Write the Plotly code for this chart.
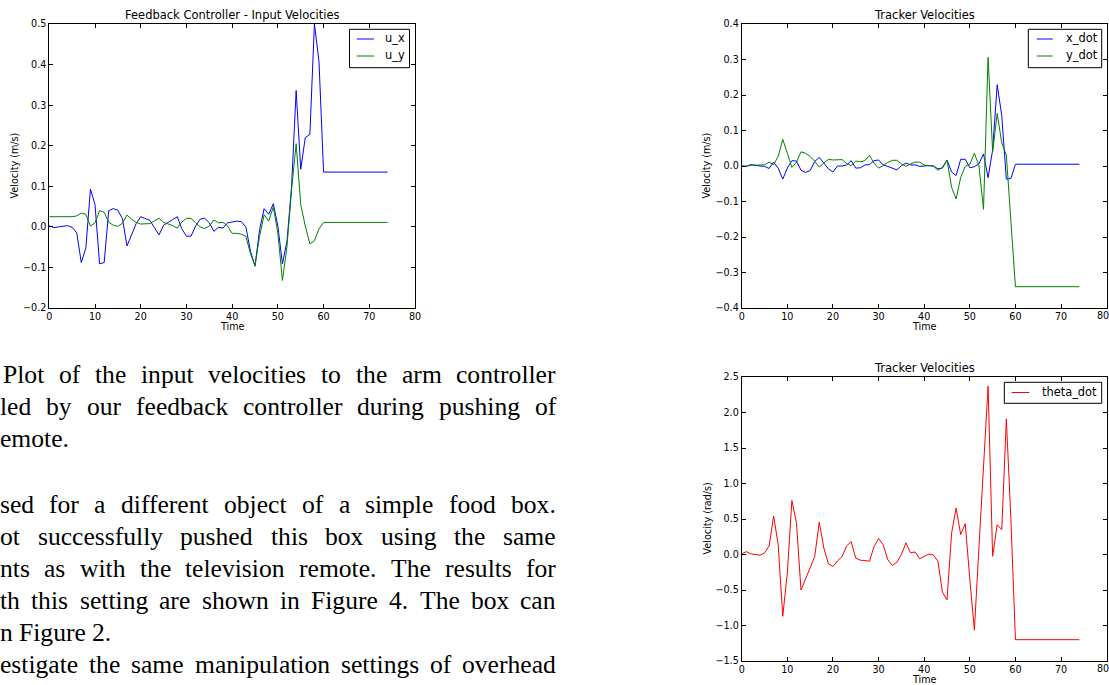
import plotly.graph_objects as go

# ---------------------------------------------------------------- data
time = list(range(75))

u_x = [0.003, -0.002, 0.0, 0.001, 0.003, -0.001, -0.015, -0.088, -0.052, 0.093,
       0.055, -0.091, -0.088, 0.040, 0.045, 0.041, 0.020, -0.047, -0.021, 0.008,
       0.025, 0.021, 0.016, -0.002, -0.020, 0.004, 0.012, 0.018, 0.025, -0.005,
       -0.023, -0.023, 0.002, 0.019, 0.021, 0.010, -0.011, -0.001, -0.003, 0.010,
       0.012, 0.014, 0.013, 0.000, -0.060, -0.097, -0.007, 0.045, 0.031, 0.057,
       0.002, -0.091, -0.035, 0.100, 0.336, 0.142, 0.220, 0.228, 0.500, 0.407,
       0.135, 0.135, 0.135, 0.135, 0.135, 0.135, 0.135, 0.135, 0.135, 0.135,
       0.135, 0.135, 0.135, 0.135, 0.135]

u_y = [0.025, 0.025, 0.025, 0.025, 0.025, 0.025, 0.027, 0.034, 0.031, 0.002,
       0.010, 0.040, 0.036, 0.011, 0.004, 0.001, 0.009, 0.029, 0.019, 0.011,
       0.007, 0.007, 0.008, 0.015, 0.021, 0.011, 0.007, 0.003, -0.003, 0.012,
       0.021, 0.021, 0.010, 0.000, -0.004, 0.002, 0.017, 0.010, 0.011, 0.002,
       -0.016, -0.016, -0.018, -0.023, -0.066, -0.096, -0.023, 0.030, 0.014, 0.049,
       -0.015, -0.132, -0.048, 0.092, 0.205, 0.055, 0.002, -0.042, -0.034, -0.005,
       0.011, 0.011, 0.011, 0.011, 0.011, 0.011, 0.011, 0.011, 0.011, 0.011,
       0.011, 0.011, 0.011, 0.011, 0.011]

x_dot = [0.0, -0.001, 0.004, 0.001, 0.0, -0.001, -0.007, 0.011, -0.006, -0.037,
         -0.006, 0.015, 0.014, -0.012, -0.018, -0.013, 0.013, 0.024, 0.008, -0.008,
         -0.017, 0.0, 0.0, 0.003, 0.015, -0.006, -0.005, 0.003, 0.004, 0.015,
         0.017, 0.003, -0.001, -0.006, -0.011, 0.001, 0.008, 0.003, 0.003, -0.001,
         0.001, 0.001, 0.0, -0.008, -0.006, 0.017, -0.017, -0.027, 0.019, 0.019,
         -0.005, -0.002, 0.006, 0.034, -0.033, 0.045, 0.229, 0.142, -0.037, -0.035,
         0.005, 0.005, 0.005, 0.005, 0.005, 0.005, 0.005, 0.005, 0.005, 0.005,
         0.005, 0.005, 0.005, 0.005, 0.005]

y_dot = [-0.001, -0.001, 0.002, 0.002, 0.003, 0.003, 0.011, 0.004, 0.027, 0.075,
         0.036, -0.004, 0.011, 0.040, 0.036, 0.027, 0.013, -0.003, 0.008, 0.019,
         0.017, 0.018, 0.018, 0.007, 0.001, 0.014, 0.012, 0.015, 0.030, 0.008,
         -0.006, 0.001, 0.010, 0.016, 0.016, 0.006, -0.001, 0.006, 0.011, 0.011,
         0.003, 0.001, 0.0, -0.012, -0.004, 0.017, -0.060, -0.093, -0.032, -0.001,
         0.005, 0.036, 0.001, -0.122, 0.306, 0.040, 0.148, 0.065, 0.031, -0.155,
         -0.340, -0.340, -0.340, -0.340, -0.340, -0.340, -0.340, -0.340, -0.340, -0.340,
         -0.340, -0.340, -0.340, -0.340, -0.340]

theta_dot = [0.01, 0.04, 0.01, 0.005, -0.01, 0.02, 0.12, 0.54, 0.14, -0.87,
             -0.26, 0.76, 0.45, -0.50, -0.35, -0.19, -0.03, 0.455, 0.09, -0.13,
             -0.17, -0.09, -0.03, 0.12, 0.18, -0.05, -0.08, -0.085, -0.095, 0.11,
             0.225, 0.14, -0.07, -0.155, -0.11, 0.0, 0.165, 0.025, 0.035, -0.06,
             -0.025, 0.005, -0.005, -0.095, -0.53, -0.64, 0.30, 0.655, 0.28, 0.435,
             -0.35, -1.065, 0.10, 1.20, 2.37, -0.025, 0.42, 0.35, 1.91, 0.50,
             -1.20, -1.20, -1.20, -1.20, -1.20, -1.20, -1.20, -1.20, -1.20, -1.20,
             -1.20, -1.20, -1.20, -1.20, -1.20]

x_ticks = [0, 10, 20, 30, 40, 50, 60, 70, 80]
x_tick_text = ["0", "10", "20", "30", "40", "50", "60", "70", "80"]

panel_titles = ["Feedback Controller - Input Velocities", "Tracker Velocities", "Tracker Velocities"]
x_titles = ["Time", "Time", "Time"]
y_titles = ["Velocity (m/s)", "Velocity (m/s)", "Velocity (rad/s)"]

caption_lines = [
    "Plot of the input velocities to the arm controller",
    "led by our feedback controller during pushing of",
    "emote.",
    "sed for a different object of a simple food box.",
    "ot successfully pushed this box using the same",
    "nts as with the television remote. The results for",
    "th this setting are shown in Figure 4. The box can",
    "n Figure 2.",
    "estigate the same manipulation settings of overhead",
]

# ---------------------------------------------------------------- geometry (pixels)
W, H = 1109, 685


def px(x):
    return x / W


def py(y):
    return 1 - y / H


panels = [
    dict(x0=49.3, x1=415.0, y0=24.0, y1=308.0, yr=(-0.2, 0.5), dy=0.1),
    dict(x0=741.7, x1=1106.7, y0=24.0, y1=308.0, yr=(-0.4, 0.4), dy=0.1),
    dict(x0=741.7, x1=1106.7, y0=377.0, y1=661.0, yr=(-1.5, 2.5), dy=0.5),
]

SANS = "DejaVu Sans"
SERIF = "Liberation Serif"
BLUE, GREEN, RED = "#0000ff", "#008000", "#ff0000"
TICK_SIZE = 9.6

fig = go.Figure()

series = [
    (1, "u_x", u_x, BLUE), (1, "u_y", u_y, GREEN),
    (2, "x_dot", x_dot, BLUE), (2, "y_dot", y_dot, GREEN),
    (3, "theta_dot", theta_dot, RED),
]
for k, name, vals, col in series:
    sfx = "" if k == 1 else str(k)
    fig.add_trace(go.Scatter(x=time, y=vals, name=name, mode="lines",
                             line=dict(color=col, width=1),
                             xaxis="x" + sfx, yaxis="y" + sfx, showlegend=False))

axis_common = dict(showline=True, linecolor="black", linewidth=1, mirror="allticks",
                   ticks="inside", ticklen=4, tickwidth=1, tickcolor="black",
                   showgrid=False, zeroline=False, fixedrange=True,
                   tickfont=dict(family=SANS, size=TICK_SIZE, color="black"))

layout = dict(width=W, height=H, margin=dict(l=0, r=0, t=0, b=0, autoexpand=False),
              paper_bgcolor="white", plot_bgcolor="white", showlegend=False)

annotations = []
shapes = []


def label(text, x, y, size, family=SANS, angle=0, xanchor="center"):
    annotations.append(dict(text=text, x=px(x), y=py(y), xref="paper", yref="paper",
                            xanchor=xanchor, yanchor="middle", showarrow=False,
                            textangle=angle, borderpad=0, borderwidth=0,
                            font=dict(family=family, size=size, color="black")))


for i, p in enumerate(panels, start=1):
    sfx = "" if i == 1 else str(i)
    # the right-hand panels end at the page edge, so their last x label is
    # set flush against the edge instead of centred on the tick
    at_edge = p["x1"] > W - 10
    ticktext = list(x_tick_text)
    if at_edge:
        ticktext[-1] = ""
        label(x_tick_text[-1], W - 0.5, p["y1"] + 7, TICK_SIZE, xanchor="right")
    layout["xaxis" + sfx] = dict(axis_common, domain=[px(p["x0"]), px(p["x1"])],
                                 range=[0, 80], tickvals=x_ticks, ticktext=ticktext,
                                 ticklabelstandoff=-1, anchor="y" + sfx)
    layout["yaxis" + sfx] = dict(axis_common, domain=[py(p["y1"]), py(p["y0"])],
                                 range=list(p["yr"]), dtick=p["dy"], tick0=0,
                                 tickformat=".1f", anchor="x" + sfx)

fig.update_layout(**layout)

# panel titles and axis titles
for p, t, xt, yt, ylx in zip(panels, panel_titles, x_titles, y_titles, [14.5, 706.5, 706.5]):
    cx = (p["x0"] + p["x1"]) / 2
    cy = (p["y0"] + p["y1"]) / 2
    label(t, cx, p["y0"] - 9, 11.5)
    label(xt, cx, min(p["y1"] + 18, H - 5.6), TICK_SIZE)
    label(yt, ylx, cy, TICK_SIZE, angle=-90)

# legends drawn as framed boxes with short line samples
legends = [
    dict(box=(349.5, 29.3, 409.5, 67.7), sample=(356.7, 374.0), text_x=385.0,
         items=[("u_x", BLUE, 39.0), ("u_y", GREEN, 56.0)]),
    dict(box=(1028.3, 29.3, 1101.7, 67.7), sample=(1036.7, 1052.7), text_x=1065.5,
         items=[("x_dot", BLUE, 39.0), ("y_dot", GREEN, 56.0)]),
    dict(box=(1004.3, 382.3, 1101.7, 403.3), sample=(1011.7, 1029.3), text_x=1041.7,
         items=[("theta_dot", RED, 392.5)]),
]
for lg in legends:
    x0, y0, x1, y1 = lg["box"]
    shapes.append(dict(type="rect", xref="paper", yref="paper",
                       x0=px(x0), x1=px(x1), y0=py(y1), y1=py(y0),
                       line=dict(color="black", width=1), fillcolor="white"))
    for name, col, yy in lg["items"]:
        shapes.append(dict(type="line", xref="paper", yref="paper",
                           x0=px(lg["sample"][0]), x1=px(lg["sample"][1]),
                           y0=py(yy), y1=py(yy), line=dict(color=col, width=1)))
        label(name, lg["text_x"], yy - 1, 11.4, xanchor="left")

# body text: justified lines set word by word
serif_w = {
    "a": .444, "b": .5, "c": .444, "d": .5, "e": .444, "f": .333, "g": .5, "h": .5,
    "i": .278, "j": .278, "k": .5, "l": .278, "m": .778, "n": .5, "o": .5, "p": .5,
    "q": .5, "r": .333, "s": .389, "t": .278, "u": .5, "v": .5, "w": .722, "x": .5,
    "y": .5, "z": .444, "F": .556, "P": .556, "T": .611, ".": .25, " ": .25,
}
for d in "0123456789":
    serif_w[d] = .5

BODY = 25.6
RIGHT = 556.0
line_left = [3, 0, 0, 0, 0, 0, 0, 0, 0]
line_base = [383, 415, 447, 513, 545, 577, 609, 641, 673]
line_just = [True, True, False, True, True, True, True, False, True]


def wwidth(s):
    return sum(serif_w.get(c, .5) for c in s) * BODY


for text, left, base, just in zip(caption_lines, line_left, line_base, line_just):
    words = text.split(" ")
    widths = [wwidth(w) for w in words]
    if just and len(words) > 1:
        gap = (RIGHT - left - sum(widths)) / (len(words) - 1)
    else:
        gap = serif_w[" "] * BODY
    x = left
    yc = base - 0.3375 * BODY
    for w, wd in zip(words, widths):
        label(w, x, yc, BODY, family=SERIF, xanchor="left")
        x += wd + gap

fig.update_layout(annotations=annotations, shapes=shapes)

fig.write_html("out.html")
